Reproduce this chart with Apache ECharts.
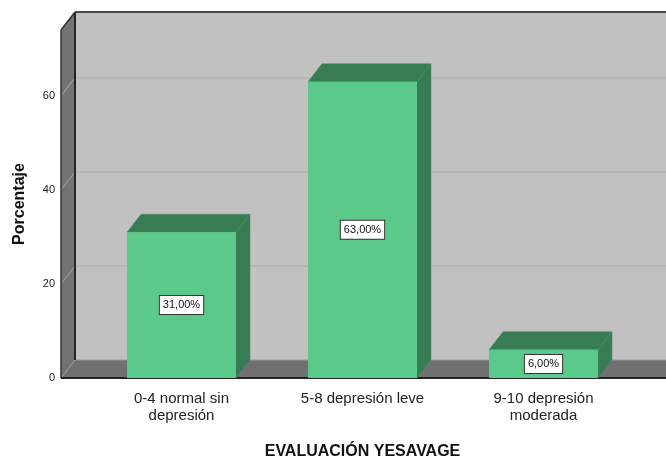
<!DOCTYPE html>
<html>
<head>
<meta charset="utf-8">
<script src="https://cdn.jsdelivr.net/npm/echarts@6/dist/echarts.min.js"></script>
<style>
html,body{margin:0;padding:0;background:#fff;}
#chart{width:666px;height:457px;}
</style>
</head>
<body>
<div id="chart"></div>
<script>
// ---- data ----
var categories = ['0-4 normal sin\ndepresión', '5-8 depresión leve', '9-10 depresión\nmoderada'];
var porcentajes = [31, 63, 6];
var yTicks = [0, 20, 40, 60];
var yMax = 74;
var xTitle = 'EVALUACIÓN YESAVAGE';
var yTitle = 'Porcentaje';

// ---- layout / style ----
var FONT = '"Liberation Sans", Arial, sans-serif';
var DX = 14, DY = -18;          // 3D depth offset
var WALL_LEFT = 30;              // wall extends left of grid
var WALL_RIGHT = 32;             // wall extends right of grid
var FRONT = '#5bc98a', DARK = '#377c53';

var chart = echarts.init(document.getElementById('chart'), null, {renderer: 'canvas'});

function frameRender(params, api) {
  var cs = params.coordSys;
  var xl = cs.x - WALL_LEFT, xr = cs.x + cs.width + WALL_RIGHT;
  var y0 = api.coord([0, 0])[1];
  var yt = api.coord([0, yMax])[1];
  var children = [];
  children.push({type: 'rect', shape: {x: xl + DX, y: yt + DY, width: xr - xl - DX, height: y0 - yt}, style: {fill: '#c1c1c1'}});
  children.push({type: 'polygon', shape: {points: [[xl, yt], [xl + DX, yt + DY], [xl + DX, y0 + DY], [xl, y0]]}, style: {fill: '#737373'}});
  children.push({type: 'polygon', shape: {points: [[xl, y0], [xl + DX, y0 + DY], [xr, y0 + DY], [xr, y0]]}, style: {fill: '#707070'}});
  yTicks.forEach(function (v) {
    if (v === 0) return;
    var y = api.coord([0, v])[1];
    children.push({type: 'line', shape: {x1: xl + DX, y1: y + DY, x2: xr, y2: y + DY}, style: {stroke: '#b2b2b2', lineWidth: 1.5}});
    children.push({type: 'line', shape: {x1: xl, y1: y, x2: xl + DX, y2: y + DY}, style: {stroke: '#a9a9a9', lineWidth: 1}});
  });
  children.push({type: 'line', shape: {x1: xl + DX, y1: y0 + DY, x2: xr, y2: y0 + DY}, style: {stroke: '#9a9a9a', lineWidth: 1}});
  children.push({type: 'line', shape: {x1: xl, y1: y0, x2: xl + DX, y2: y0 + DY}, style: {stroke: '#9a9a9a', lineWidth: 1}});
  children.push({type: 'line', shape: {x1: xl + DX, y1: yt + DY, x2: xl + DX, y2: y0 + DY}, style: {stroke: '#222', lineWidth: 2}});
  children.push({type: 'line', shape: {x1: xl + DX, y1: yt + DY, x2: xr, y2: yt + DY}, style: {stroke: '#4a4a4a', lineWidth: 2}});
  children.push({type: 'line', shape: {x1: xl, y1: yt, x2: xl + DX, y2: yt + DY}, style: {stroke: '#333', lineWidth: 1.5}});
  children.push({type: 'line', shape: {x1: xl, y1: yt, x2: xl, y2: y0}, style: {stroke: '#333', lineWidth: 1.5}});
  children.push({type: 'line', shape: {x1: xl, y1: y0, x2: xr, y2: y0}, style: {stroke: '#222', lineWidth: 2}});
  return {type: 'group', children: children};
}

function barRender(params, api) {
  var idx = api.value(0), val = api.value(1);
  var top = api.coord([idx, val]);
  var base = api.coord([idx, 0]);
  var w = api.size([1, 0])[0] * 0.602;
  var x1 = top[0] - w / 2, x2 = top[0] + w / 2;
  var yT = top[1], y0 = base[1];
  var label = val.toFixed(2).replace('.', ',') + '%';
  return {type: 'group', children: [
    {type: 'polygon', shape: {points: [[x2, yT], [x2 + DX, yT + DY], [x2 + DX, y0 + DY], [x2, y0]]}, style: {fill: DARK, stroke: '#468a62', lineWidth: 0.5}},
    {type: 'polygon', shape: {points: [[x1, yT], [x1 + DX, yT + DY], [x2 + DX, yT + DY], [x2, yT]]}, style: {fill: DARK, stroke: '#468a62', lineWidth: 0.5}},
    {type: 'rect', shape: {x: x1, y: yT, width: w, height: y0 - yT}, style: {fill: FRONT}},
    {type: 'text', x: top[0], y: (yT + y0) / 2, style: {
      text: label, align: 'center', verticalAlign: 'middle',
      font: '11px ' + FONT, fill: '#111',
      backgroundColor: '#fff', borderColor: '#333', borderWidth: 1,
      padding: [4, 3, 3, 3]
    }}
  ]};
}

var barData = porcentajes.map(function (v, i) { return [i, v]; });

chart.setOption({
  animation: false,
  backgroundColor: '#fff',
  grid: {left: 91, right: 32, top: 30, bottom: 79, containLabel: false, outerBoundsMode: 'none'},
  xAxis: {
    type: 'category',
    data: categories,
    axisLine: {show: false},
    axisTick: {show: false},
    axisLabel: {color: '#222', fontSize: 15, lineHeight: 17, fontFamily: FONT, margin: 12, interval: 0},
    name: xTitle,
    nameLocation: 'middle',
    nameGap: 66,
    nameTextStyle: {color: '#111', fontSize: 16, fontWeight: 'bold', fontFamily: FONT}
  },
  yAxis: {
    type: 'value',
    min: 0,
    max: yMax,
    interval: 20,
    axisLine: {show: false},
    axisTick: {show: false},
    splitLine: {show: false},
    axisLabel: {
      color: '#222', fontSize: 11, fontFamily: FONT, margin: 36,
      formatter: function (v) { return yTicks.indexOf(v) >= 0 ? String(v) : ''; }
    },
    name: yTitle,
    nameLocation: 'middle',
    nameRotate: 90,
    nameGap: 63,
    nameTextStyle: {color: '#111', fontSize: 16, fontWeight: 'bold', fontFamily: FONT}
  },
  series: [
    {type: 'custom', renderItem: frameRender, data: [[0, 0]], silent: true, z: 1},
    {type: 'custom', renderItem: barRender, data: barData, encode: {x: 0, y: 1}, z: 2}
  ]
});
</script>
</body>
</html>
